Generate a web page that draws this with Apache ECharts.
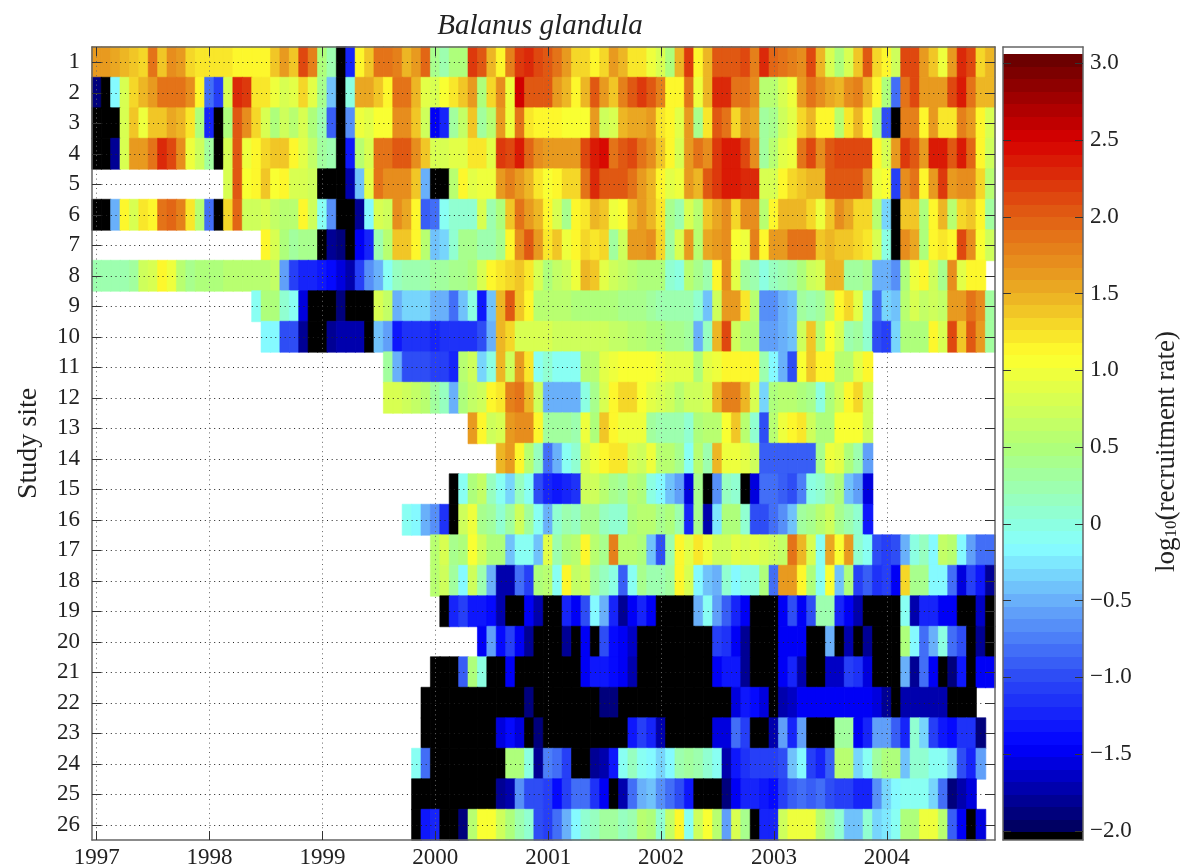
<!DOCTYPE html>
<html>
<head>
<meta charset="utf-8">
<title>Balanus glandula</title>
<script src="https://cdn.jsdelivr.net/npm/echarts@6/dist/echarts.min.js"></script>
<style>
html, body { margin: 0; padding: 0; background: #fff; }
#chart { width: 1183px; height: 867px; }
</style>
</head>
<body>
<div id="chart"></div>
<script>
// _ = no record for that month (white), X = below the colour scale (black)
var _ = null, X = -2.5;
var blankYear = [_,_,_,_,_,_,_,_,_,_,_,_];

var years = ['1997','1998','1999','2000','2001','2002','2003','2004'];
var sites = ['1','2','3','4','5','6','7','8','9','10','11','12','13','14','15','16','17','18','19','20','21','22','23','24','25','26'];
var colorbarTicks = [-2, -1.5, -1, -0.5, 0, 0.5, 1, 1.5, 2, 2.5, 3];

// log10 recruitment rate, one line per year, Jan..Dec
var site1 = [1.6,1.6,1.55,1.45,1.4,1.3,1.9,1.35,1.7,1.65,1.3,1.2,
  1.2,1.2,1.2,1.1,1.1,1.1,1.1,1.4,1.6,1.35,2.1,1.8,
  .5,.2,X,-1.2,1.1,1.35,1.85,1.85,1.8,1.5,1.6,1.95,
  .4,.2,.5,.5,2.2,2,1.5,1.1,1.8,2.2,2.3,2.1,
  2,1.85,1.6,1.3,1.3,1.15,1.3,1.6,1.45,1.25,1.2,1,
  .8,.5,1.5,2.2,1.1,1.5,2,2,2,2.1,1.8,2.3,
  1.95,1.9,1.8,1.75,2.1,1.45,.8,.5,.85,1.4,2,1.3,
  1.1,.7,2.1,2.15,1.6,1.4,1,1.6,2.3,2.1,1.3,1.5];
var site2 = [-1.9,X,-.2,.8,1.3,1.45,1.6,1.85,1.85,1.85,1.7,1.1,
  -.8,-1.1,.8,2.3,2.2,1.25,1.25,1,.85,.9,1.3,.9,
  .4,-.4,X,0,1.55,1.55,1.35,1.1,1.9,1.9,1.5,.9,
  .85,1.05,1.25,1.4,1.6,.5,1.3,1.7,1,2.5,2,2,
  2,1.6,1.5,1.1,1.5,2,1.6,1.35,1.8,2,2.2,2,
  1.8,1.1,1.1,1.85,1,1.5,2.3,2.3,1.9,1.9,1.75,.55,
  .6,.85,1,1.6,1.9,1.7,1.55,1.5,1.75,1.8,1.45,1.1,
  .5,-.8,1.9,2.1,1.6,1.6,1.6,2.1,2.4,1.85,1.5,1.5];
var site3 = [X,X,X,.85,1.35,1,1.35,1.35,1.55,1.45,1.2,.5,
  -1.2,X,.5,2,1.75,1.3,.8,.5,.7,.6,.8,.5,
  .2,-.9,X,-.7,.95,.9,1.05,1.05,1.7,1.7,1.35,.7,
  -1.5,-1.2,.3,.65,1.4,.3,.6,1.6,1,1.9,1.2,1.15,
  1.1,1.1,1.05,1.05,1.05,1.6,.75,.8,1.45,1.55,1.55,1.6,
  1.2,1.15,.9,1.6,.4,1.2,2,1.9,1.3,1.6,1.55,.35,
  .4,.7,.9,1.3,1.45,1.1,1.1,.55,1.25,1.45,1.1,.5,
  -1,X,1.8,1.8,1.1,1.6,1.2,1.2,1.8,1.6,1.1,.8];
var site4 = [X,X,-1.8,.85,1.65,1.65,1.9,2.3,2.15,1.75,1,.7,
  .3,X,.8,2,.95,1.1,1.3,1.35,1.4,1.15,.9,.65,
  .35,.2,X,-1.3,.6,.8,1.9,1.9,2,2,1.75,1.4,
  .85,.85,.9,.9,1.2,1.2,.9,2.2,2.15,2.35,1.95,1.7,
  1.65,1.65,1.65,1.6,2.15,2.35,2.45,1.9,2.05,2.1,1.9,1.7,
  1.4,1.1,.85,1.6,1.9,1.75,2.2,2.4,2.4,2.1,1.7,.3,
  .6,.9,1,1.85,2.1,1.7,2.05,2.15,2.15,2.15,2.15,1.15,
  .85,1.65,2.2,2,1.6,2.4,2.35,2.05,2.35,1.95,1.1,.7];
var site5 = [...blankYear,
  _,_,.8,2,1.05,1.1,1.35,1.05,1.1,.8,.8,.75,
  X,X,X,-1.7,-.4,.9,1.9,1.7,1.7,1.7,1.4,-.5,
  X,X,.6,1.1,.9,.95,.95,1.6,1.8,1.65,1.45,1.2,
  1.05,1.1,1.3,1.3,1.9,2.25,2,2,2,1.85,1.6,1.45,
  1.1,.9,.95,1.6,1.5,2,2.2,2.4,2.4,2.25,2.25,.8,
  .85,1.15,1.3,1.4,1.5,1.45,2,2,2,2,1.7,.95,
  1.05,-1.1,1.7,1.85,1.1,1.6,2.2,1.6,1.75,1.75,1.3,.55];
var site6 = [X,X,-.5,1.1,.85,1.2,1.1,1.85,1.95,1.8,1.2,.6,
  -.8,X,1.3,1.95,.7,.7,.85,.65,.6,.6,1.1,.7,
  -.1,-.7,X,X,-1.8,-.2,.8,.75,1.7,1.55,1.1,-.9,
  -.8,-.1,.1,.1,.1,.8,.25,.5,1.4,1.9,1.6,1.45,
  1.1,.8,.4,1.1,1.2,1.5,1.35,.95,1.05,1.5,1.6,1.45,
  1.25,.4,.2,.8,.6,1.4,1.55,1.75,1.3,1.7,1.7,.6,
  1.1,1.45,1.5,1.45,1.3,.95,1.35,1.7,1.55,1.3,1.3,.55,
  -.3,X,1.4,1.4,.5,1.1,1.45,.6,1.3,1.4,1.1,.3];
var site7 = [...blankYear,
  _,_,_,_,_,_,1.1,.85,.45,.3,.4,.4,
  X,-1.8,-1.9,X,-1.5,-1.2,.2,.6,1.35,1.35,1.1,.6,
  -.4,-.3,.05,.4,.4,.25,.2,.4,1.1,1.75,2,1.6,
  1.2,1.35,.95,1.1,1.3,1.25,1.3,.35,.7,1.6,1.6,1.7,
  1.3,.3,.85,1.6,.55,1.55,1.6,1.75,1.05,1,1.8,1.1,
  1.6,1.65,1.9,1.9,1.9,1.35,1.45,1.4,1.35,1.3,1.2,.8,
  0,X,1.75,1.55,.5,1.1,1.2,1.1,2.1,1.75,1.05,.7];
var site8 = [.25,.2,.2,.2,.3,.7,.85,1.1,.95,.6,.4,.45,
  .45,.5,.55,.55,.55,.55,.6,.65,-.6,-1.1,-1.2,-1.2,
  -1.35,-1.4,-1.55,-1.75,-1.1,-.7,-.5,-.1,.15,.2,.2,.2,
  .3,.35,.4,.4,.45,.85,1.1,1.2,1.3,1.35,1.2,.8,
  .5,.65,.7,1,1.5,1.4,.9,.75,.65,.6,.5,.5,
  .5,.1,0,.55,.4,.25,1.1,1.7,.9,.3,.25,0,
  .15,.2,.3,.45,.75,.85,1.45,1.45,.3,.35,.4,-.5,
  -.5,-.7,.5,1,1.1,.7,.4,1.75,.9,1.1,1.15,_];
var site9 = [...blankYear,
  _,_,_,_,_,-.1,.5,.45,.05,-.05,-1.6,X,
  X,X,-1.85,X,X,X,.8,.65,-.5,-.35,-.35,-.35,
  -.5,-.5,-.8,-.45,0,-1.3,-.4,1.45,2,1.4,1.1,.6,
  .6,.6,.55,.5,.5,.45,.45,.45,.4,.4,.4,.35,
  .25,.2,.2,.2,.1,-.4,.75,1.6,1.6,1.25,.6,-.7,
  -.65,-.5,-.45,.3,.2,.35,.65,1.1,1.3,.9,.05,-.8,
  -.35,-.4,.6,.8,.65,.7,.65,1.6,1.6,1.9,1.75,.35];
var site10 = [...blankYear,
  _,_,_,_,_,_,-.2,-.2,-1,-1,-1.8,X,
  X,-1.8,-1.75,-1.75,-1.7,X,-.45,-.6,-1.3,-1.15,-1.15,-1.15,
  -1.2,-1.15,-1.15,-1.15,-1.15,-1,-.5,1.5,1.3,.85,.85,.8,
  .85,.75,.7,.7,.7,.7,.7,.65,.65,.6,.55,.5,
  .45,.4,.4,.35,-.5,.15,1.45,2.1,.75,.5,.45,-.6,
  -.55,-.5,-.45,.75,1.35,.6,1.05,.85,.2,.35,.05,-1,
  -1.1,-.35,.45,.45,.5,1.1,.85,2.1,1.4,2.05,1.6,.35];
var site11 = [...blankYear, ...blankYear,
  _,_,_,_,_,_,_,.3,-.5,-1,-1,-1,
  -1.05,-1.05,-1.25,.55,.75,-.35,0,1.5,.75,1.6,1.25,-.1,
  .05,-.1,-.1,-.1,.6,.55,.9,1,1.05,1.05,1.05,1.05,
  1,.9,.9,.9,.5,.9,1,1.1,1.1,1.15,1.1,.2,
  -.2,-.5,-1,1.05,1.4,1.1,1.15,.6,.6,.9,1.1,_,
  ...blankYear];
var site12 = [...blankYear, ...blankYear,
  _,_,_,_,_,_,_,.8,.8,.7,.65,.55,
  .3,.15,-.5,.5,.65,.7,1.1,1.2,1.8,1.85,1.5,.7,
  -.5,-.5,-.5,-.5,0,.4,.8,1.1,1.3,1.3,1.05,.9,
  .85,.7,.6,.7,.75,.85,1.45,1.8,1.8,1.45,.85,-.3,
  .5,.55,.55,.5,.4,0,.5,.7,1.1,1.3,.7,_,
  ...blankYear];
var site13 = [...blankYear, ...blankYear, ...blankYear,
  _,_,_,_,1.6,1.1,.75,.8,1.6,1.7,1.7,1.1,
  .3,.3,.3,.2,.95,.45,1.4,1.1,1,1,1,.35,
  .2,.25,.25,.1,.5,.55,.6,1.05,1.4,.55,.1,-1,
  .6,1,1.15,1.2,.75,.45,.45,1.05,1.05,1.05,.7,_,
  ...blankYear];
var site14 = [...blankYear, ...blankYear, ...blankYear,
  _,_,_,_,_,_,_,1.45,1.65,1.1,.6,.15,
  -.85,-.5,-.1,.1,.8,.95,1.1,1.25,1.25,.85,.75,1,
  .6,.55,.4,-.1,.55,.2,1.45,1,.95,.9,.7,-.9,
  -.9,-.9,-.9,-.9,-.9,.4,.95,.9,.5,.2,-.6,_,
  ...blankYear];
var site15 = [...blankYear, ...blankYear, ...blankYear,
  _,_,X,-.05,.45,.65,.15,-.1,-.3,.15,-.1,-1,
  -1.25,-1.3,-1.2,-1.15,.75,.7,.55,.4,.3,.55,.5,0,
  -.15,-.4,-.6,-1.6,.4,X,-.7,.15,.1,X,-1.6,-.85,
  -.85,-.9,-1,-.75,0,.1,.3,.45,-.4,-.6,-1.55,_,
  ...blankYear];
var site16 = [...blankYear, ...blankYear,
  _,_,_,_,_,_,_,_,_,-.1,-.2,-.5,
  -.7,-1.15,X,.75,1,.4,.35,.1,.35,.75,.3,-.1,
  -.5,.1,.2,.15,.4,.4,.15,.1,.1,.5,.6,.55,
  .4,.45,.2,-1.2,.4,-1.7,-.25,.45,.5,.05,-1,-1,
  -.8,-.7,-.45,.3,.4,.55,.7,.4,.2,.1,-1.3,_,
  ...blankYear];
var site17 = [...blankYear, ...blankYear, ...blankYear,
  .55,.8,.4,.5,1.05,.75,.5,.5,-.4,-.1,-.05,-.4,
  .9,.25,.5,.6,1.1,.6,.4,1.8,.6,.6,.5,-.4,
  -1,.2,1.1,.9,1.25,.95,.75,.75,.9,.85,.9,.85,
  .7,.65,1.9,1.45,.8,-.05,1.55,1.05,1.65,.1,-.05,-1,
  -1.1,-1,-.5,0,.15,-.2,.65,.6,-.2,-.6,-.85,-.85];
var site18 = [...blankYear, ...blankYear, ...blankYear,
  .55,.75,.3,-.2,.75,.25,-.5,-1.7,-1.75,-.85,-1.1,.45,
  .55,-.1,1.1,.65,.7,.3,.15,0,-.9,-.05,.4,.2,
  .25,.3,1.1,.8,-.2,-.45,-.5,.1,-.2,0,0,.45,
  -.8,1.6,1.6,1.15,.5,-.05,1.05,-.4,.5,-1.1,-.9,-1.15,
  -1.05,-1.5,1.3,.4,.4,-.2,-.2,-.8,-1.55,-1.1,-1.3,-1.8];
var site19 = [...blankYear, ...blankYear, ...blankYear,
  _,X,-1.2,-1.05,-1.3,-1.3,-1.4,-1.75,X,X,-1.5,-1.75,
  X,X,-1.2,-1.5,-.95,-.15,-.5,-1.25,-1.8,-1.5,-1.2,-1.5,
  X,X,X,X,-.5,-.05,-.55,-.9,-1.2,-1.5,X,X,
  X,-1.5,-1,-1.5,-1,.25,.25,-1.2,-1.5,-1.7,X,X,
  X,X,-.05,-1.75,-1.2,-1.25,-1.5,-1.5,X,X,-1.65,X];
var site20 = [...blankYear, ...blankYear, ...blankYear,
  _,_,_,_,_,-1.5,-.55,-1.4,-1.1,-1.5,-1.8,X,
  X,X,-1.8,X,-1.5,X,-1,-1.4,-1.5,-1.65,X,X,
  X,X,X,X,X,X,-1.05,-1.15,-1.5,-1.8,X,X,
  X,-1.45,-1.5,-1.5,X,X,-.5,X,-1.75,X,-1.8,X,
  X,X,.5,-.2,-.85,-.5,0,-.85,-.95,X,-1.8,X];
var site21 = [...blankYear, ...blankYear, ...blankYear,
  X,X,X,-.9,.5,0,X,X,-1.5,X,X,X,
  X,X,X,X,-1.45,-1.3,-1.3,-1.4,-1.5,-1.75,X,X,
  X,X,X,X,X,X,-1.5,-1.3,-1.3,-1.8,X,X,
  X,-1.5,-1.2,-1.7,X,X,-1.65,-1.65,-1.1,-1.15,-1.6,X,
  X,X,-.5,-1.8,-.8,-1.5,X,-1.85,-1.35,X,-1.5,-1.5];
var site22 = [...blankYear, ...blankYear,
  _,_,_,_,_,_,_,_,_,_,_,X,
  X,X,X,X,X,X,X,X,X,X,-1.85,X,
  X,X,X,X,X,X,-1.85,-1.85,X,X,X,X,
  X,X,X,X,X,X,X,X,-1.6,-1.35,-1.4,-1.6,
  X,-1.75,-1.65,-1.5,-1.5,-1.5,-1.5,-1.5,-1.5,-1.5,-1.5,-1.6,
  -1.8,X,-1.75,-1.75,-1.75,-1.75,-1.75,X,X,X,_,_];
var site23 = [...blankYear, ...blankYear,
  _,_,_,_,_,_,_,_,_,_,_,X,
  X,X,X,X,X,X,X,-1.6,-1.4,-1.55,X,-1.85,
  X,X,X,X,X,X,X,X,X,-1.3,-1.1,-1.25,
  -1.7,X,X,X,X,X,-1.6,-1.6,-.85,-1.05,X,X,
  -1.7,-.55,-1.2,-.6,X,X,X,.35,.35,-1.5,-1.2,-.6,
  -.6,-.9,-1.2,.05,-.3,-1.1,-1.35,-1.4,-1.15,-1.15,-1.85,_];
var site24 = [...blankYear, ...blankYear,
  _,_,_,_,_,_,_,_,_,_,-.05,-.85,
  X,X,X,X,X,X,X,X,.5,.5,0,-1.8,
  -.75,-.85,-1.05,X,X,-1.8,-1.75,-1.35,-.05,.15,-.1,-.2,
  -.3,-.2,.2,.35,.2,.1,-.1,-1.7,-1.35,-1.15,-1.1,-1.05,
  -1.1,-.95,-.4,-.2,-1.1,-1.25,-.9,.55,.55,-.35,-.1,.3,
  .45,.5,-.4,.05,.05,-.1,-.1,-.3,-.95,-1.2,-.6,_];
var site25 = [...blankYear, ...blankYear,
  _,_,_,_,_,_,_,_,_,_,X,X,
  X,X,X,X,X,X,X,-1.8,-1.7,-.7,-.95,-.95,
  -1.05,-1.4,-1.1,-.85,-.85,-1.15,-1.5,X,-1.75,-.85,-.5,-.45,
  -.7,-.85,-1,-1.3,X,X,X,-1.85,-1.5,-1.2,-1.2,-1.3,
  -1.4,-1.05,-.9,-.85,-.9,-.85,-.95,-1.1,-1.1,-1.2,-1.2,-.7,
  -.3,-.15,-.1,-.05,-.1,-.3,-.8,-1.9,-1.7,-1.6,_,_];
var site26 = [...blankYear, ...blankYear,
  _,_,_,_,_,_,_,_,_,_,X,-1.3,
  -1.25,X,X,-1.85,.6,1.05,1.05,.75,.45,.2,.1,-1,
  -1.05,-.8,-.5,-.15,.05,.15,.3,.3,.15,.2,.6,.45,
  .05,.65,1.1,-.05,.75,1.05,.6,-.6,.85,.4,X,-1.25,
  -1.25,.75,1,1,1,.6,.35,.05,-.4,-.4,.05,-.3,
  -.25,-.1,.45,.45,.95,.95,.55,-.9,-1.5,X,-1.6,_];

var siteRows = [site1,site2,site3,site4,site5,site6,site7,site8,site9,site10,site11,site12,site13,
  site14,site15,site16,site17,site18,site19,site20,site21,site22,site23,site24,site25,site26];

// colour scale: value, r, g, b
var colorStops = [
  [-2.0, 0, 0, 90], [-1.45, 0, 0, 255], [-1.0, 45, 75, 245], [-0.5, 105, 175, 250],
  [-0.15, 135, 255, 255], [0.0, 140, 255, 225], [0.5, 175, 255, 120], [1.1, 255, 255, 45],
  [1.5, 235, 175, 35], [2.0, 225, 95, 20], [2.5, 215, 0, 0], [3.06, 100, 0, 0]
];
var scaleMin = -2.01, scaleMax = 3.06, bandCount = 62;
var axisMin = -2.059, axisMax = 3.107;

function colorAt(v) {
    for (var i = 1; i < colorStops.length; i++) {
        if (v <= colorStops[i][0]) {
            var a = colorStops[i - 1], b = colorStops[i];
            var t = Math.max(0, (v - a[0]) / (b[0] - a[0]));
            return 'rgb(' + Math.round(a[1] + (b[1] - a[1]) * t) + ',' +
                Math.round(a[2] + (b[2] - a[2]) * t) + ',' +
                Math.round(a[3] + (b[3] - a[3]) * t) + ')';
        }
    }
    return 'rgb(100,0,0)';
}

// the scale is stepped, so cells and colour bar share the same bands
var bands = [];
for (var b = 0; b < bandCount; b++) {
    var lo = scaleMin + (scaleMax - scaleMin) * b / bandCount;
    var hi = scaleMin + (scaleMax - scaleMin) * (b + 1) / bandCount;
    bands.push({ min: lo, max: hi, color: colorAt((lo + hi) / 2) });
}
var pieces = [{ max: scaleMin, color: '#000' }].concat(bands);
pieces.push({ min: scaleMax, color: '#fff' });

var barData = [[axisMin, scaleMin, '#000']];
bands.forEach(function (p) { barData.push([p.min, p.max, p.color]); });
barData.push([scaleMax, axisMax, '#fff']);

function bandColor(v) {
    if (v <= scaleMin) return '#000';
    var i = Math.min(bandCount - 1, Math.floor((v - scaleMin) / (scaleMax - scaleMin) * bandCount));
    return bands[i].color;
}

var months = [];
years.forEach(function (y) {
    for (var m = 1; m <= 12; m++) months.push(y + '-' + m);
});

// a thin border in the cell's own colour closes the seams between cells
var cells = [];
siteRows.forEach(function (row, r) {
    row.forEach(function (v, k) {
        if (v !== null) {
            cells.push({ value: [k, r, v], itemStyle: { borderColor: bandColor(v), borderWidth: 0.6 } });
        }
    });
});

var serif = '"Liberation Serif", "Times New Roman", serif';
var textColor = '#222';
var tickColor = '#333';
var frame = { show: true, onZero: false, lineStyle: { color: '#666', width: 1.5 } };

function insideTicks(interval, length) {
    return { show: true, inside: true, interval: interval, alignWithLabel: true, length: length, lineStyle: { color: tickColor } };
}

var chart = echarts.init(document.getElementById('chart'));
chart.setOption({
    animation: false,
    backgroundColor: '#fff',
    title: {
        text: 'Balanus glandula', left: 535, top: 7, textAlign: 'center',
        textStyle: { fontFamily: serif, fontStyle: 'italic', fontWeight: 'normal', fontSize: 29, color: textColor }
    },
    // outerBoundsMode none: keep the plot where it is, labels run close to the page edge
    grid: [
        { left: 92, top: 47, width: 903, height: 793, outerBoundsMode: 'none' },
        { left: 1003, top: 47, width: 80, height: 793, outerBoundsMode: 'none' }
    ],
    visualMap: { show: false, type: 'piecewise', seriesIndex: 0, dimension: 2, pieces: pieces },
    xAxis: [
        {
            type: 'category', gridIndex: 0, position: 'bottom', data: months, z: 5,
            axisLine: frame,
            axisTick: insideTicks(11, 9),
            axisLabel: {
                interval: 11, margin: 6, fontFamily: serif, fontSize: 23, color: textColor,
                formatter: function (v) { return v.split('-')[0]; }
            },
            splitLine: { show: true, interval: 11, alignWithLabel: true, lineStyle: { type: [1, 3.7], color: '#666', width: 1 } }
        },
        {
            type: 'category', gridIndex: 0, position: 'top', data: months, z: 5,
            axisLine: frame,
            axisTick: insideTicks(11, 9),
            axisLabel: { show: false }
        },
        // colour bar frame, bottom and top
        { type: 'value', gridIndex: 1, position: 'bottom', min: 0, max: 1, z: 5, axisLine: frame, axisTick: { show: false }, axisLabel: { show: false }, splitLine: { show: false } },
        { type: 'value', gridIndex: 1, position: 'top', min: 0, max: 1, z: 5, axisLine: frame, axisTick: { show: false }, axisLabel: { show: false }, splitLine: { show: false } }
    ],
    yAxis: [
        {
            type: 'category', gridIndex: 0, position: 'left', inverse: true, data: sites, z: 5,
            name: 'Study site', nameLocation: 'middle', nameGap: 49, nameRotate: 90,
            nameTextStyle: { fontFamily: serif, fontSize: 28, color: textColor },
            axisLine: frame,
            axisTick: insideTicks(0, 9),
            axisLabel: { interval: 0, margin: 12, fontFamily: serif, fontSize: 23, color: textColor },
            splitLine: { show: true, interval: 0, alignWithLabel: true, lineStyle: { type: [1, 3.7], color: '#222', width: 1 } }
        },
        {
            type: 'category', gridIndex: 0, position: 'right', inverse: true, data: sites, z: 5,
            axisLine: frame,
            axisTick: insideTicks(0, 9),
            axisLabel: { show: false }
        },
        {
            type: 'value', gridIndex: 1, position: 'right', min: axisMin, max: axisMax, z: 5,
            name: 'log{sub|10}(recruitment rate)', nameLocation: 'middle', nameGap: 70, nameRotate: 90,
            nameTextStyle: {
                fontFamily: serif, fontSize: 27, color: textColor, padding: [0, 16, 0, 0],
                rich: { sub: { fontFamily: serif, fontSize: 17, color: textColor, verticalAlign: 'bottom', padding: [10, 0, 0, 0] } }
            },
            axisLine: frame,
            axisTick: { show: true, inside: true, length: 8, customValues: colorbarTicks, lineStyle: { color: tickColor } },
            axisLabel: {
                margin: 7, fontFamily: serif, fontSize: 23, color: textColor, customValues: colorbarTicks,
                formatter: function (v) {
                    if (v === 0) return '0';
                    return (v < 0 ? '\u2212' : '') + Math.abs(v).toFixed(1);
                }
            },
            splitLine: { show: false }
        },
        {
            type: 'value', gridIndex: 1, position: 'left', min: axisMin, max: axisMax, z: 5,
            axisLine: frame,
            axisTick: { show: true, inside: true, length: 8, customValues: colorbarTicks, lineStyle: { color: tickColor } },
            axisLabel: { show: false },
            splitLine: { show: false }
        }
    ],
    series: [
        {
            type: 'heatmap', xAxisIndex: 0, yAxisIndex: 0, data: cells,
            progressive: 0, emphasis: { disabled: true }
        },
        {
            type: 'custom', xAxisIndex: 2, yAxisIndex: 2, data: barData, clip: false, silent: true,
            encode: { y: [0, 1] },
            renderItem: function (params, api) {
                // snap to whole pixels so no seams show between the bands
                var top = api.coord([0, api.value(1)]);
                var bottom = api.coord([1, api.value(0)]);
                var y0 = Math.round(top[1]), y1 = Math.round(bottom[1]);
                return {
                    type: 'rect',
                    shape: { x: top[0], y: y0, width: bottom[0] - top[0], height: y1 - y0 },
                    style: { fill: barData[params.dataIndex][2] }
                };
            }
        }
    ]
});
</script>
</body>
</html>
